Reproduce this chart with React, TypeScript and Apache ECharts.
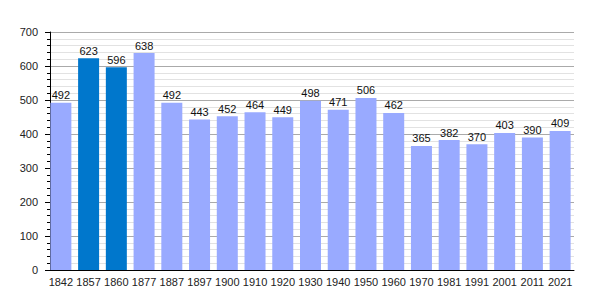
import React, { useEffect, useRef } from "react";
import * as echarts from "echarts";

const years = ["1842", "1857", "1860", "1877", "1887", "1897", "1900", "1910", "1920", "1930", "1940", "1950", "1960", "1970", "1981", "1991", "2001", "2011", "2021"];
const population = [492, 623, 596, 638, 492, 443, 452, 464, 449, 498, 471, 506, 462, 365, 382, 370, 403, 390, 409];
const highlighted = ["1857", "1860"];

const LIGHT = "#99aaff";
const DARK = "#0077cc";

export default function App() {
  const ref = useRef<HTMLDivElement>(null);
  useEffect(() => {
    if (!ref.current) return;
    const chart = echarts.init(ref.current, null, { renderer: "svg" });
    chart.setOption({
      animation: false,
      grid: { left: 47, right: 26, top: 32, bottom: 30, containLabel: false },
      xAxis: {
        type: "category",
        data: years,
        axisLine: { show: true, lineStyle: { color: "#000", width: 1 } },
        axisTick: { show: false },
        axisLabel: { color: "#222", fontSize: 11, fontFamily: "Liberation Sans, Arial, sans-serif", margin: 6, interval: 0 },
      },
      yAxis: {
        type: "value",
        min: 0,
        max: 700,
        interval: 100,
        offset: -3,
        axisLine: { show: true, lineStyle: { color: "#000", width: 1 } },
        axisTick: { show: true, length: 5, lineStyle: { color: "#000" } },
        minorTick: { show: true, splitNumber: 5, length: 3, lineStyle: { color: "#000" } },
        splitLine: { show: true, lineStyle: { color: "#aaaaaa", width: 1 } },
        minorSplitLine: { show: true, lineStyle: { color: "#e2e2e2", width: 1 } },
        axisLabel: { color: "#222", fontSize: 11, fontFamily: "Liberation Sans, Arial, sans-serif", margin: 12 },
      },
      series: [
        {
          type: "bar",
          barWidth: 21,
          data: population.map((v, i) => ({
            value: v,
            itemStyle: { color: highlighted.includes(years[i]) ? DARK : LIGHT },
          })),
          label: {
            show: true,
            position: "top",
            distance: 2,
            color: "#111",
            fontSize: 11,
            fontFamily: "Liberation Sans, Arial, sans-serif",
          },
        },
      ],
    });
    return () => chart.dispose();
  }, []);
  return <div ref={ref} style={{ width: 600, height: 300, position: "absolute", left: 0, top: 0 }} />;
}
